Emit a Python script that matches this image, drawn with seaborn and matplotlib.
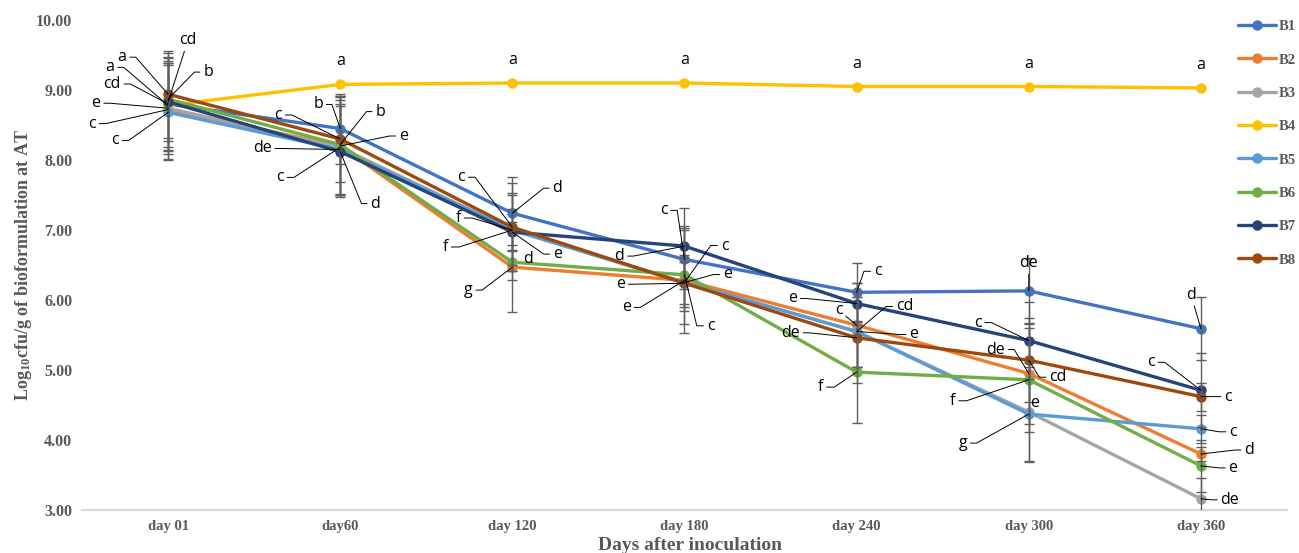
import numpy as np
import pandas as pd
import matplotlib
matplotlib.use("Agg")
import matplotlib.pyplot as plt
import seaborn as sns
from matplotlib.lines import Line2D

# ---------------- data ----------------
days = ["day 01", "day60", "day 120", "day 180", "day 240", "day 300", "day 360"]
series_names = ["B1", "B2", "B3", "B4", "B5", "B6", "B7", "B8"]

B1 = [8.80, 8.45, 7.24, 6.58, 6.11, 6.13, 5.59]
B2 = [8.72, 8.20, 6.47, 6.28, 5.64, 4.95, 3.80]
B3 = [8.74, 8.18, 7.00, 6.25, 5.55, 4.40, 3.16]
B4 = [8.78, 9.08, 9.10, 9.10, 9.05, 9.05, 9.03]
B5 = [8.68, 8.15, 7.00, 6.25, 5.55, 4.37, 4.16]
B6 = [8.87, 8.22, 6.54, 6.36, 4.97, 4.86, 3.63]
B7 = [8.83, 8.12, 6.97, 6.77, 5.95, 5.42, 4.71]
B8 = [8.94, 8.30, 7.04, 6.24, 5.46, 5.14, 4.62]

B1_err = [0.65, 0.50, 0.52, 0.42, 0.42, 0.47, 0.45]
B2_err = [0.70, 0.70, 0.64, 0.75, 0.60, 0.72, 0.10]
B3_err = [0.65, 0.68, 0.50, 0.30, 0.50, 0.70, 0.30]
B4_err = [0.60, 0.00, 0.00, 0.00, 0.00, 0.00, 0.00]
B5_err = [0.68, 0.65, 0.30, 0.35, 0.50, 0.68, 0.20]
B6_err = [0.60, 0.70, 0.25, 0.70, 0.73, 0.74, 0.37]
B7_err = [0.70, 0.65, 0.56, 0.55, 0.30, 0.55, 0.53]
B8_err = [0.62, 0.62, 0.63, 0.40, 0.65, 0.60, 0.20]

yticks = [3, 4, 5, 6, 7, 8, 9, 10]

# significance letters per day: (letter, series)
letters_day01 = [("a", "B8"), ("a", "B4"), ("cd", "B7"), ("b", "B6"),
                 ("cd", "B1"), ("e", "B3"), ("c", "B2"), ("c", "B5")]
letters_day60 = [("c", "B8"), ("b", "B1"), ("b", "B6"), ("e", "B2"),
                 ("de", "B5"), ("c", "B3"), ("d", "B7")]
letters_day120 = [("c", "B8"), ("d", "B1"), ("f", "B3"), ("f", "B5"),
                  ("e", "B7"), ("d", "B6"), ("g", "B2")]
letters_day180 = [("c", "B1"), ("c", "B5"), ("d", "B7"), ("e", "B3"),
                  ("e", "B8"), ("e", "B2"), ("c", "B6")]
letters_day240 = [("c", "B1"), ("e", "B7"), ("c", "B2"), ("cd", "B5"),
                  ("de", "B8"), ("e", "B3"), ("f", "B6")]
letters_day300 = [("de", "B1"), ("c", "B7"), ("de", "B2"), ("cd", "B8"),
                  ("f", "B6"), ("e", "B3"), ("g", "B5")]
letters_day360 = [("d", "B1"), ("c", "B7"), ("c", "B8"), ("c", "B5"),
                  ("d", "B2"), ("e", "B6"), ("de", "B3")]
letters_B4_top = ["a", "a", "a", "a", "a", "a"]  # days 60..360

# ---------------- layout (label offsets in pixels from their point) ----------------
off_day01 = [(-46, 37), (-58, 38), (20, 62), (40, 27), (-56, 20), (-72, 5), (-76, -14), (-53, -28)]
off_day60 = [(-62, 24), (-22, 24), (40, 33), (63, 10), (-78, 1), (-60, -30), (35, -52)]
off_day120 = [(-51, 50), (45, 25), (-54, 12), (-67, -17), (45, -22), (16, 3), (-44, -23)]
off_day180 = [(-21, 49), (40, 37), (-65, -10), (43, 8), (-64, -1), (-58, -27), (26, -51)]
off_day240 = [(21, 21), (-64, 5), (-18, 15), (48, 25), (-66, 5), (57, -3), (-36, -15)]
off_day300 = [(0, 28), (-51, 18), (-33, 24), (29, -17), (-76, -21), (6, 9), (-66, -29)]
off_day360 = [(-10, 34), (-50, 28), (27, 0), (32, -3), (48, 4), (32, -2), (29, -1)]

colors = {"B1": "#4472C4", "B2": "#ED7D31", "B3": "#A5A5A5", "B4": "#FFC000",
          "B5": "#5B9BD5", "B6": "#70AD47", "B7": "#264478", "B8": "#9E480E"}
values = dict(zip(series_names, [B1, B2, B3, B4, B5, B6, B7, B8]))
errors = dict(zip(series_names, [B1_err, B2_err, B3_err, B4_err, B5_err, B6_err, B7_err, B8_err]))

pos = list(range(len(days)))
rows = []
for s in series_names:
    for p, v in zip(pos, values[s]):
        rows.append({"pos": p, "value": v, "series": s})
df = pd.DataFrame(rows)

# ---------------- style ----------------
sns.set_theme(style="white")
plt.rcParams["font.family"] = ["Liberation Serif", "DejaVu Serif"]
plt.rcParams["mathtext.fontset"] = "custom"
plt.rcParams["mathtext.rm"] = "Liberation Serif:bold"
plt.rcParams["mathtext.it"] = "Liberation Serif:bold"
plt.rcParams["mathtext.bf"] = "Liberation Serif:bold"

gray_txt = "#595959"

fig = plt.figure(figsize=(12.99, 5.53), dpi=100)
ax = fig.add_axes([82 / 1299, 1 - 510 / 553, (1287 - 82) / 1299, 490 / 553])

sns.lineplot(data=df, x="pos", y="value", hue="series", hue_order=series_names,
             palette=colors, marker="o", markersize=7.5, linewidth=2.4,
             markeredgewidth=0, estimator=None, sort=False, legend=False,
             ax=ax, zorder=2)

for s in series_names:
    px = [p for p, e in zip(pos, errors[s]) if e > 0]
    py = [v for v, e in zip(values[s], errors[s]) if e > 0]
    pe = [e for e in errors[s] if e > 0]
    if px:
        ax.errorbar(px, py, yerr=pe, fmt="none", ecolor="#5f5f5f",
                    elinewidth=1.0, capsize=3.8, capthick=1.0, zorder=3)

ax.set_xlim(-0.5, 6.5)
ax.set_ylim(3, 10)
ax.set_xticks(pos)
ax.set_xticklabels(days)
ax.set_yticks(yticks)
ax.set_yticklabels([f"{v:.2f}" for v in yticks])
ax.tick_params(axis="both", length=0)
ax.tick_params(axis="y", pad=7, labelsize=11.5, labelcolor=gray_txt)
ax.tick_params(axis="x", pad=7, labelsize=10.5, labelcolor=gray_txt)
for lab in ax.get_xticklabels() + ax.get_yticklabels():
    lab.set_fontweight("bold")

for side in ["left", "right", "top"]:
    ax.spines[side].set_visible(False)
ax.spines["bottom"].set_color("#D9D9D9")
ax.spines["bottom"].set_linewidth(1.5)

ax.set_xlabel("Days after inoculation", fontsize=14, fontweight="bold", color=gray_txt)
ax.xaxis.label.set_va("center")
ax.xaxis.set_label_coords((690 - 82) / 1205, (510 - 545) / 490)
ax.set_ylabel(r"Log$_{10}$cfu/g of bioformulation at AT", fontsize=13,
              fontweight="bold", color=gray_txt)
ax.yaxis.label.set_va("center")
ax.yaxis.set_label_coords((24 - 82) / 1205, 0.5)

# ---------------- significance letters ----------------
LBL_FONT = ["Open Sans", "DejaVu Sans"]


def draw_letters(day_idx, letters, offsets):
    for (txt, s), (dx, dy) in zip(letters, offsets):
        v = values[s][day_idx]
        w = 4.7 * len(txt)
        dist = np.hypot(dx, dy)
        kw = {}
        if dist >= 20:
            if abs(dx) > w + 14:
                cs = f"arc,angleA={0 if dx < 0 else 180},armA={w + 9},rad=0"
            else:
                cs = "arc3"
            kw["arrowprops"] = dict(arrowstyle="-", color="black", lw=0.7,
                                    shrinkA=0, shrinkB=0, connectionstyle=cs)
        ax.annotate(txt, xy=(day_idx, v), xytext=(dx, dy), textcoords="offset pixels",
                    ha="center", va="center", fontsize=11.5, family=LBL_FONT,
                    color="black", zorder=6, annotation_clip=False, **kw)


all_letters = [letters_day01, letters_day60, letters_day120, letters_day180,
               letters_day240, letters_day300, letters_day360]
all_offsets = [off_day01, off_day60, off_day120, off_day180,
               off_day240, off_day300, off_day360]
for i, (L, O) in enumerate(zip(all_letters, all_offsets)):
    draw_letters(i, L, O)

for i, txt in enumerate(letters_B4_top, start=1):
    ax.annotate(txt, xy=(i, B4[i]), xytext=(0, 23), textcoords="offset pixels",
                ha="center", va="center", fontsize=11.5, family=LBL_FONT,
                color="black", zorder=6)

# ---------------- legend ----------------
handles = [Line2D([0], [0], color=colors[s], lw=2.4, marker="o", markersize=7.5,
                  markeredgewidth=0) for s in series_names]
fig.legend(handles, series_names, loc="upper left",
           bbox_to_anchor=(1238 / 1299, 1 - 20 / 553), frameon=False,
           prop=dict(family="Liberation Serif", weight="bold", size=10.5),
           labelcolor=gray_txt, handlelength=2.6, handletextpad=0.2,
           labelspacing=1.38, borderpad=0, borderaxespad=0)

fig.savefig("out.png", dpi=100)
